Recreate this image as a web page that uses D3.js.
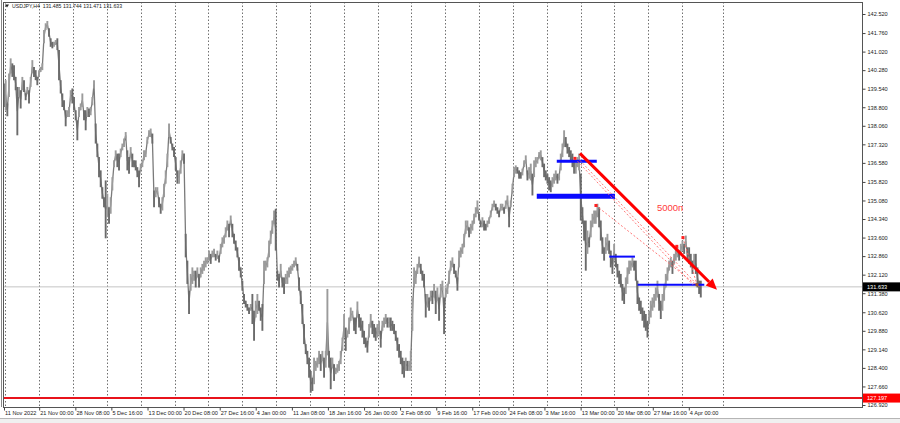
<!DOCTYPE html>
<html><head><meta charset="utf-8">
<script src="https://cdn.jsdelivr.net/npm/d3@7"></script>
<style>
html,body{margin:0;padding:0;background:#fff;}
svg{display:block;font-family:"Liberation Sans",Arial,sans-serif;}
</style></head><body>
<svg id="c" width="900" height="423"></svg>
<script>
// ---- DATA (USDJPY, H4; one entry per plotted bar) ----
const highs = [
139.75,139.88,138.95,140.15,140.75,140.55,140.48,140.01,139.61,139.61,
139.48,140.01,139.88,139.35,139.61,139.48,140.01,140.68,140.41,140.28,
140.01,140.28,140.41,140.55,141.88,142.15,142.24,141.95,141.55,141.41,
141.41,141.48,141.55,141.08,139.88,139.35,139.08,138.68,138.68,138.81,
139.48,139.55,139.21,138.68,138.28,138.81,138.95,139.35,138.68,138.68,
138.81,138.75,138.81,139.21,139.88,138.15,137.35,136.81,136.28,135.61,
135.21,135.88,135.35,134.81,135.21,136.01,136.68,137.08,136.95,136.95,
137.15,137.35,137.55,137.81,137.08,136.81,137.21,136.95,136.68,136.68,
136.41,136.28,136.55,136.68,137.08,137.08,137.61,137.88,137.95,137.75,
135.48,135.61,135.61,135.21,134.95,135.21,135.75,136.28,136.95,138.15,
137.61,137.35,137.21,136.81,136.28,
136.28,136.68,137.08,136.95,133.75,132.68,131.48,132.15,132.41,132.28,
132.28,132.41,132.15,132.41,132.55,132.68,132.81,132.81,133.08,132.95,
133.08,133.15,132.95,133.08,132.88,133.35,133.61,133.68,134.01,134.28,
134.15,134.48,134.15,133.75,133.48,133.21,132.81,132.41,131.88,131.35,
131.08,130.95,130.81,130.95,131.35,130.68,131.08,131.35,131.08,130.81,
130.95,132.68,132.68,132.81,133.48,133.88,134.28,134.68,134.75,132.28,
132.15,132.55,132.01,132.01,132.15,132.28,132.41,132.48,132.55,132.68,
132.81,132.55,132.01,131.48,130.95,130.15,129.35,129.08,128.81,128.28,
128.01,128.81,128.68,128.81,129.08,128.95,129.08,128.81,129.08,131.55,
129.08,128.81,128.81,128.55,128.41,128.55,128.68,129.08,129.61,130.55,
130.01,129.88,130.41,130.81,130.68,
130.41,130.41,131.05,130.55,130.41,130.28,129.88,129.61,129.48,130.15,
130.55,130.28,130.15,130.01,130.15,130.28,129.88,130.28,130.41,130.55,
130.41,130.41,130.41,130.28,130.15,129.88,129.61,129.35,129.08,128.81,
128.68,128.81,128.68,128.68,129.08,131.21,132.41,132.28,132.55,132.84,
132.55,132.28,132.15,131.35,131.35,131.21,131.48,131.48,131.75,131.48,
131.61,131.21,131.75,131.88,131.21,131.61,131.75,132.28,132.68,132.81,
132.55,132.28,132.01,133.08,133.21,133.35,133.75,134.28,134.28,134.01,
134.15,134.28,134.55,134.81,135.08,134.55,134.28,134.41,134.28,134.15,
134.28,134.41,134.68,134.95,135.08,134.95,134.81,134.68,134.95,134.95,
134.81,135.08,135.28,134.81,135.08,135.75,136.41,136.48,136.41,136.28,
136.21,136.35,136.68,136.88,136.28,
136.41,136.55,136.15,136.68,136.81,136.81,137.01,137.08,136.81,136.55,
136.28,136.15,136.01,135.88,136.01,136.15,136.28,136.15,136.15,136.95,
137.35,137.88,137.61,137.35,137.21,137.08,136.95,136.68,136.68,136.81,
136.95,136.15,134.81,134.28,134.28,133.88,133.61,134.28,134.55,134.68,
134.68,134.95,134.81,134.28,133.61,133.21,133.61,133.75,133.48,133.08,
132.81,133.35,132.95,132.55,132.28,132.15,131.75,131.61,132.01,132.41,
132.68,132.68,132.81,132.68,132.68,131.88,131.21,131.08,130.81,130.68,
130.55,130.28,130.68,131.08,131.21,131.35,131.61,131.88,131.35,131.08,
131.35,131.75,132.15,132.41,132.68,132.81,132.68,132.95,133.21,133.21,
133.08,133.35,133.48,133.35,133.68,133.21,133.21,132.95,132.68,132.95,
132.95,132.41,131.88,131.88
];
const lows = [
138.81,138.68,138.44,139.21,140.15,140.01,139.88,139.48,137.68,139.21,
138.75,139.48,139.41,139.08,139.35,138.95,139.61,140.15,140.01,139.88,
139.68,140.01,140.21,140.28,141.35,141.88,141.95,141.61,141.21,141.15,
141.21,141.28,141.08,139.88,139.35,138.81,138.68,138.04,138.41,138.41,
139.08,138.95,138.68,138.28,137.48,138.41,138.68,138.81,138.28,137.88,
138.41,138.41,138.48,138.88,139.55,137.35,136.81,136.01,135.61,135.15,
134.81,133.57,134.41,134.15,134.55,135.48,136.41,136.68,136.41,136.28,
136.81,137.08,137.21,137.55,136.28,136.15,136.81,136.41,136.41,136.28,
136.01,135.61,136.28,136.41,136.68,136.81,137.35,137.61,137.61,137.35,
134.81,135.21,135.35,134.81,134.55,134.68,135.21,135.75,136.41,137.61,
137.35,137.08,136.81,136.28,135.75,
135.75,136.15,136.68,136.55,132.81,131.75,130.55,131.48,131.75,131.88,
131.61,132.01,131.61,132.01,132.15,132.28,132.41,132.55,132.68,132.55,
132.81,132.81,132.68,132.75,132.61,132.95,133.21,133.35,133.61,133.88,
133.61,134.15,133.61,133.35,133.08,132.81,132.28,132.01,131.48,130.95,
130.81,130.68,130.55,130.68,130.15,129.48,130.41,130.55,130.68,130.28,
129.88,131.75,132.28,132.41,132.81,133.35,133.75,134.15,133.08,131.88,
131.61,132.01,131.61,131.35,131.75,131.75,132.01,132.15,132.28,132.41,
132.48,132.28,131.48,130.95,130.15,129.35,128.95,128.55,128.01,127.41,
127.48,127.75,128.28,128.41,128.55,128.28,128.68,128.01,128.41,128.90,
128.41,127.55,128.41,127.88,128.15,128.21,128.28,128.55,129.08,129.61,
129.08,129.61,129.75,130.28,130.41,
129.88,129.75,130.41,130.01,129.88,129.61,129.35,129.21,129.01,129.61,
130.01,129.75,129.61,129.48,129.61,129.75,129.21,129.88,130.01,130.15,
130.01,130.01,129.88,129.88,129.75,129.48,129.08,128.81,128.55,128.15,
128.01,128.28,128.28,128.28,128.28,129.88,131.61,131.75,132.15,132.41,
132.15,131.88,131.61,130.41,130.81,130.68,131.08,130.95,131.21,130.55,
131.08,130.28,131.21,131.48,129.75,131.21,131.35,131.75,132.28,132.41,
132.15,132.01,131.48,132.41,132.81,132.95,133.21,133.75,133.88,133.61,
133.75,133.88,134.15,134.41,134.55,134.28,134.01,134.01,133.88,133.88,
134.01,134.15,134.41,134.68,134.81,134.68,134.55,134.41,134.68,134.68,
134.55,134.75,134.95,134.01,134.81,135.35,136.01,136.15,136.15,135.95,
135.95,136.08,136.41,136.55,135.88,
135.95,135.88,135.28,136.01,136.41,136.55,136.75,136.68,136.41,136.01,
135.88,135.75,135.48,135.41,135.61,135.75,135.88,135.75,135.88,136.28,
136.81,137.21,137.21,136.95,136.81,136.68,136.41,136.15,136.15,136.41,
136.28,134.28,134.15,133.48,132.28,132.95,133.21,133.61,134.01,134.15,
134.15,134.41,134.01,133.48,132.95,132.68,132.95,133.08,132.95,132.41,
132.15,132.68,132.41,132.01,131.75,131.61,131.08,130.95,131.35,131.75,
132.15,132.28,132.41,132.28,131.88,130.95,130.68,130.55,130.28,130.01,
129.88,129.61,130.15,130.41,130.68,130.81,131.08,131.21,130.68,130.35,
130.68,131.08,131.61,131.88,132.28,132.41,132.15,132.55,132.68,132.81,
132.68,132.95,133.08,132.95,133.21,132.68,132.55,132.41,132.15,132.41,
132.15,131.61,131.35,131.21
];
const priceTicks = [142.52,141.76,141.02,140.28,139.54,138.80,138.06,137.32,136.58,135.82,
  135.08,134.34,133.60,132.86,132.12,131.38,130.62,129.88,129.14,128.40,127.66,126.92];
const timeLabels = ["11 Nov 2022","21 Nov 00:00","28 Nov 08:00","5 Dec 16:00","13 Dec 00:00",
  "20 Dec 08:00","27 Dec 16:00","4 Jan 00:00","11 Jan 08:00","18 Jan 16:00","26 Jan 00:00",
  "2 Feb 08:00","9 Feb 16:00","17 Feb 00:00","24 Feb 08:00","3 Mar 16:00","13 Mar 00:00",
  "20 Mar 08:00","27 Mar 16:00","4 Apr 00:00"];
const timeLabelBar = [0,21.1,42.8,64.4,86.1,107.7,129.4,151.0,172.7,194.3,216.0,237.6,259.3,
  280.9,302.6,324.2,345.9,367.5,389.2,410.8];           // bar position of each time label
const weekStartBar = [0.8,21.1,41.4,61.7,82.0,102.3,122.6,142.9,163.2,183.5,203.8,224.1,
  244.4,264.7,285.0,305.3,325.6,345.9,366.2,386.5,406.8,431.4]; // vertical grid (week starts)
const symbolLine = ["USDJPY,H4","131.485","131.744","131.471","131.633"];
const lastPrice = 131.633;
const alertPrice = 127.197;
// blue horizontal levels: start bar, end bar, price
const levelStart = [331.6,319.6,363.1,380.1];
const levelEnd   = [355.6,366.5,378.5,420.1];
const levelPrice = [136.65,135.25,132.84,131.72];
// red arrow (bar, price)
const arrowFrom = [345.5,136.96];
const arrowTo   = [427.7,131.52];
// thin dashed projection lines (bar0, price0, bar1, price1)
const projLines = [[342.5,136.76,413.3,131.72],[345.5,136.68,416.9,131.64],
  [355.1,134.88,415.1,131.72],[407.3,133.60,415.7,131.72]];
const markerBar   = [342.5,355.1,407.3,403.6,415.7];
const markerPrice = [136.76,134.88,133.60,133.25,131.72];
const labelText = "5000п"; const labelBar = 391.7; const labelPrice = 134.68;

// ---- DRAWING ----
const svg = d3.select("#c");
const L = 3, R = 862, T = 2, B = 407;
const x = d3.scaleLinear().domain([0, highs.length - 1]).range([4, 700.8]);
const y = d3.scaleLinear().domain([126.92, 142.52]).range([405, 14]);

svg.append("defs").append("clipPath").attr("id","clip")
  .append("rect").attr("x",L).attr("y",T).attr("width",R-L).attr("height",B-T);
const plot = svg.append("g").attr("clip-path","url(#clip)");

// vertical dotted grid
plot.selectAll("line.grid").data(weekStartBar).join("line").attr("class","grid")
  .attr("x1",d=>Math.round(x(d))+0.5).attr("x2",d=>Math.round(x(d))+0.5)
  .attr("y1",T).attr("y2",B).attr("stroke","#707070").attr("stroke-width",1)
  .attr("stroke-dasharray","1.5,2");

// last price line
plot.append("line").attr("x1",L).attr("x2",R).attr("y1",y(lastPrice)).attr("y2",y(lastPrice))
  .attr("stroke","#c4c4c4").attr("stroke-width",1);

// alert line
plot.append("line").attr("x1",L).attr("x2",R).attr("y1",y(alertPrice)).attr("y2",y(alertPrice))
  .attr("stroke","#e8131b").attr("stroke-width",2);

// price path (connecting line through bar mid-points)
const mids = highs.map((h,i)=>[i,(h+lows[i])/2]);
plot.append("path").datum(mids)
  .attr("d", d3.line().x(d=>x(d[0])).y(d=>y(d[1])))
  .attr("fill","none").attr("stroke","#7a7a7a").attr("stroke-width",1.3);

// bars
plot.selectAll("line.bar").data(highs).join("line").attr("class","bar")
  .attr("x1",(d,i)=>x(i)).attr("x2",(d,i)=>x(i))
  .attr("y1",d=>y(d)).attr("y2",(d,i)=>y(lows[i]))
  .attr("stroke",(d,i)=> i>0 && (d+lows[i]) >= (highs[i-1]+lows[i-1]) ? "#9b9b9b" : "#6b6b6b")
  .attr("stroke-width",1.9);

// blue levels
const levelWidths = [3,5,2,2];
plot.selectAll("line.lvl").data(levelPrice).join("line").attr("class","lvl")
  .attr("x1",(d,i)=>x(levelStart[i])).attr("x2",(d,i)=>x(levelEnd[i]))
  .attr("y1",d=>y(d)).attr("y2",d=>y(d))
  .attr("stroke","#0a0aff").attr("stroke-width",(d,i)=>levelWidths[i]);

// dashed projections
plot.selectAll("line.proj").data(projLines).join("line").attr("class","proj")
  .attr("x1",d=>x(d[0])).attr("y1",d=>y(d[1])).attr("x2",d=>x(d[2])).attr("y2",d=>y(d[3]))
  .attr("stroke","#ff6a6a").attr("stroke-width",0.9).attr("stroke-dasharray","2,2");

// markers
plot.selectAll("rect.mk").data(markerBar).join("rect").attr("class","mk")
  .attr("x",d=>x(d)-1.5).attr("y",(d,i)=>y(markerPrice[i])-1.5)
  .attr("width",3).attr("height",3)
  .attr("fill",(d,i)=> i===markerBar.length-1 ? "#a0522d" : "#ff2020");

// arrow
const ax0 = x(arrowFrom[0]), ay0 = y(arrowFrom[1]), ax1 = x(arrowTo[0]), ay1 = y(arrowTo[1]);
const ang = Math.atan2(ay1-ay0, ax1-ax0);
const hl = 11, hw = 5;
const bx = ax1 - hl*Math.cos(ang), by = ay1 - hl*Math.sin(ang);
plot.append("line").attr("x1",ax0).attr("y1",ay0).attr("x2",bx).attr("y2",by)
  .attr("stroke","#ff0000").attr("stroke-width",3);
plot.append("path")
  .attr("d",`M${ax1},${ay1}L${bx+hw*Math.sin(ang)},${by-hw*Math.cos(ang)}L${bx-hw*Math.sin(ang)},${by+hw*Math.cos(ang)}Z`)
  .attr("fill","#ff0000");

// text label
plot.append("text").attr("x",x(labelBar)).attr("y",y(labelPrice))
  .attr("fill","#ff3b3b").attr("font-size","9.5px").text(labelText);

// frame
svg.append("rect").attr("x",L+0.5).attr("y",T+0.5).attr("width",R-L).attr("height",B-T)
  .attr("fill","none").attr("stroke","#555").attr("stroke-width",1);
svg.append("line").attr("x1",1.5).attr("x2",1.5).attr("y1",0).attr("y2",B)
  .attr("stroke","#888").attr("stroke-width",1);

// price axis
const yAxis = svg.append("g").attr("transform",`translate(${R+0.5},0)`)
  .call(d3.axisRight(y).tickValues(priceTicks).tickSize(3).tickFormat(d3.format(".3f")));
yAxis.select(".domain").remove();
yAxis.selectAll("line").attr("stroke","#444");
yAxis.selectAll("text").attr("x",5).attr("font-size","5.6px").attr("fill","#222")
  .attr("font-family","Liberation Sans, Arial, sans-serif");

// price tags
function tag(p, bg){
  const g = svg.append("g");
  g.append("rect").attr("x",R+1).attr("y",y(p)-4.5).attr("width",37).attr("height",9).attr("fill",bg);
  g.append("text").attr("x",R+5).attr("y",y(p)).attr("dy","0.35em").attr("fill","#fff")
    .attr("font-size","5.6px").text(d3.format(".3f")(p));
}
tag(lastPrice,"#000");
tag(alertPrice,"#ff0000");

// time axis
const xAxis = svg.append("g").attr("transform",`translate(0,${B+0.5})`)
  .call(d3.axisBottom(x).tickValues(timeLabelBar).tickSize(3).tickFormat((d,i)=>timeLabels[i]));
xAxis.select(".domain").remove();
xAxis.selectAll("line").attr("stroke","#444");
xAxis.selectAll("text").attr("text-anchor","start").attr("dx","0.1em").attr("y",4)
  .attr("font-size","5.6px").attr("fill","#222").attr("font-family","Liberation Sans, Arial, sans-serif");

// symbol line top-left
svg.append("path").attr("d","M5,4.5L9,4.5L7,7.5Z").attr("fill","#222");
svg.append("text").attr("x",12).attr("y",7.5).attr("font-size","5.2px").attr("fill","#222")
  .attr("xml:space","preserve").text(symbolLine[0] + "  " + symbolLine.slice(1).join(" "));

// bottom tab strip
svg.append("rect").attr("x",0).attr("y",418).attr("width",900).attr("height",5).attr("fill","#f0f0f0");
svg.append("line").attr("x1",0).attr("x2",900).attr("y1",418.5).attr("y2",418.5).attr("stroke","#b5b5b5");
</script>
</body></html>
